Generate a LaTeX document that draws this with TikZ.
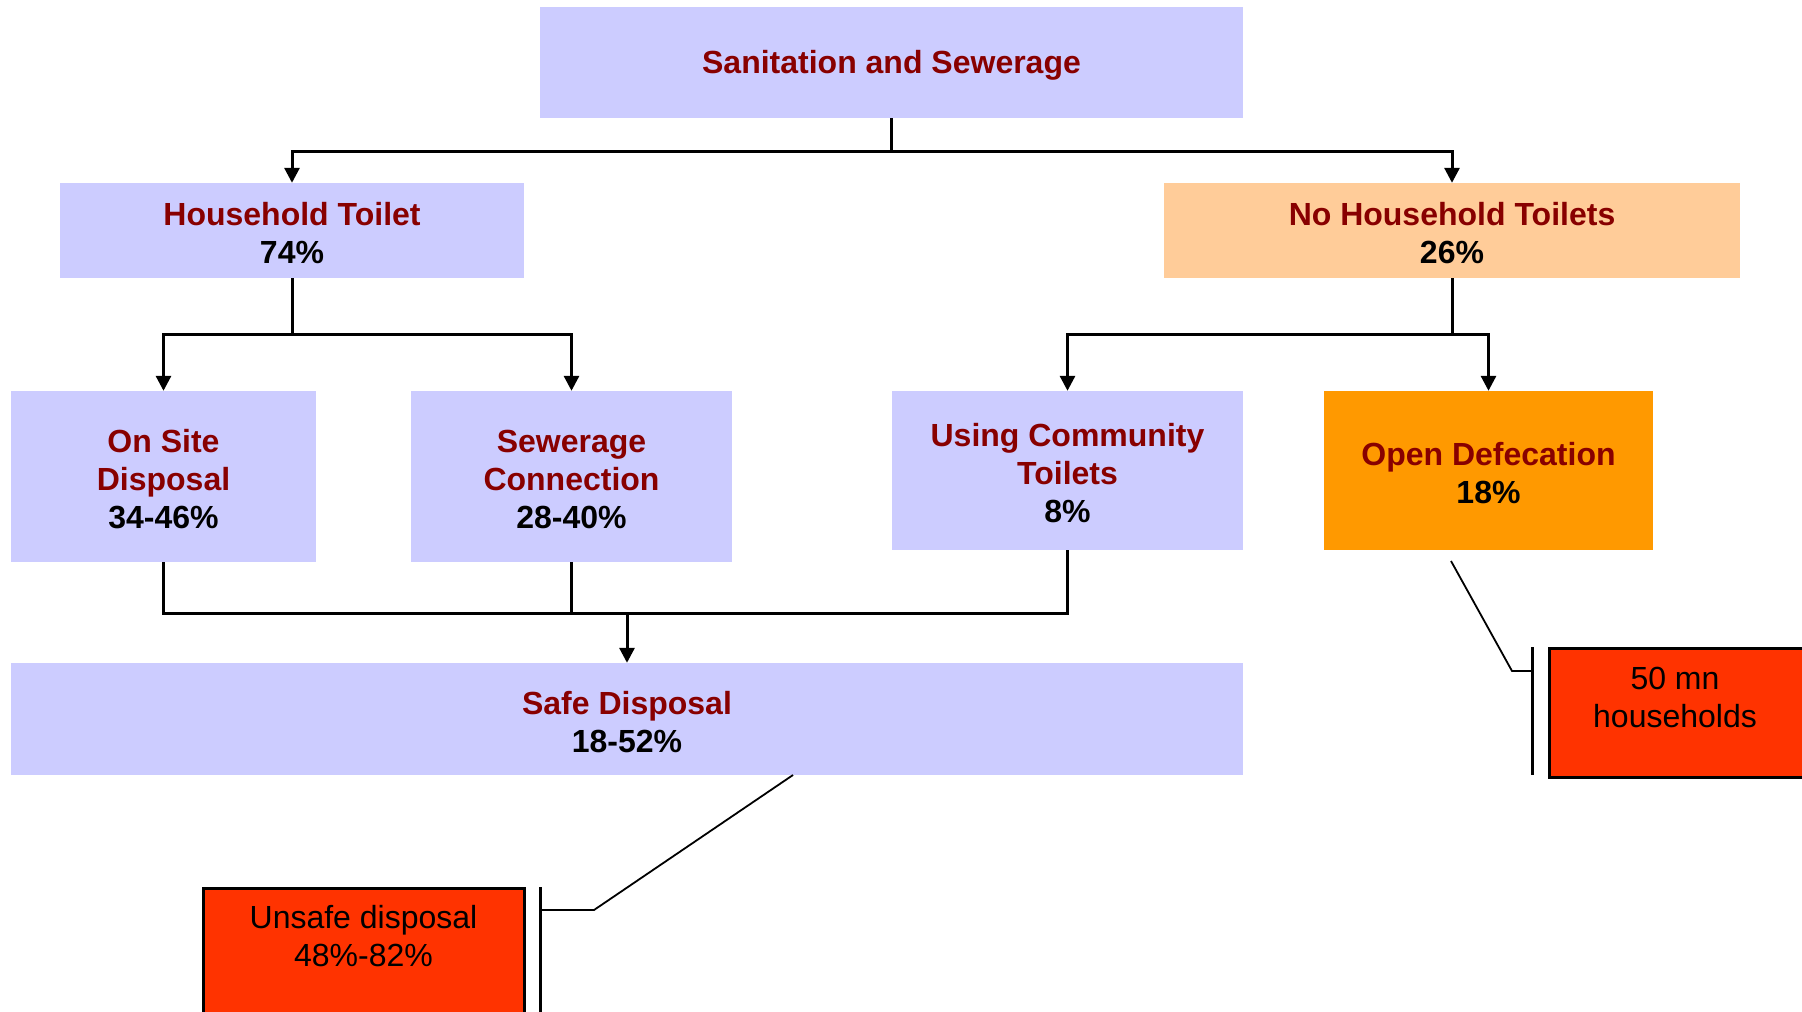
\documentclass[tikz,border=0pt]{standalone}
\usepackage{fontspec}
\setmainfont{Liberation Sans}
\usetikzlibrary{arrows.meta}
\definecolor{lav}{HTML}{CCCCFF}
\definecolor{peach}{HTML}{FFCC99}
\definecolor{orng}{HTML}{FF9900}
\definecolor{redbox}{HTML}{FF3300}
\definecolor{dred}{HTML}{880000}
\newcommand\myst{\rule{0pt}{29pt}}
\tikzset{
  box/.style={rectangle, inner sep=0pt, align=center, font=\fontsize{32}{38}\selectfont\bfseries, text=dred},
  conn/.style={line width=3pt, black},
  arr/.style={conn, -{Triangle[length=15pt,width=15pt]}},
  callout/.style={line width=1.8pt, black},
  bracket/.style={line width=3pt, black},
  redrect/.style={rectangle, fill=redbox, draw=black, line width=3pt, inner sep=0pt},
  redtext/.style={align=center, font=\fontsize{32}{38}\selectfont, text=black}
}
\begin{document}
\begin{tikzpicture}[x=1pt,y=-1pt]
\useasboundingbox (0,0) rectangle (1802,1012);
\fill[white] (0,0) rectangle (1802,1012);

\node[box, fill=lav, minimum width=703pt, minimum height=111pt] (top) at (891.5,62.5) {\myst Sanitation and Sewerage};
\node[box, fill=lav, minimum width=464pt, minimum height=95pt] (ht) at (292,230.5) {\myst Household Toilet\\\textcolor{black}{74\%}};
\node[box, fill=peach, minimum width=576pt, minimum height=95pt] (nht) at (1452,230.5) {\myst No Household Toilets\\\textcolor{black}{26\%}};
\node[box, fill=lav, minimum width=305pt, minimum height=171pt] (osd) at (163.5,476.5) {\myst On Site\\Disposal\\\textcolor{black}{34-46\%}};
\node[box, fill=lav, minimum width=321pt, minimum height=171pt] (sc) at (571.5,476.5) {\myst Sewerage\\Connection\\\textcolor{black}{28-40\%}};
\node[box, fill=lav, minimum width=351pt, minimum height=159pt] (uct) at (1067.5,470.5) {\myst Using Community\\Toilets\\\textcolor{black}{8\%}};
\node[box, fill=orng, minimum width=329pt, minimum height=159pt] (od) at (1488.5,470.5) {\myst Open Defecation\\\textcolor{black}{18\%}};
\node[box, fill=lav, minimum width=1232pt, minimum height=112pt] (sd) at (627,719) {\myst Safe Disposal\\\textcolor{black}{18-52\%}};

% red boxes
\node[redrect, minimum width=321pt, minimum height=160pt, anchor=north] (unsafe) at (363.5,887) {};
\node[redtext] (unsafetxt) at (363.5,936) {Unsafe disposal\\48\%-82\%};
\node[redrect, minimum width=256pt, minimum height=129pt, anchor=north west] (hh) at (1548,647) {};
\node[redtext] (hhtxt) at (1675,697) {50 mn\\households};

% top connectors
\coordinate (j1) at (891.5,151);
\draw[conn] (top.south) -- (j1);
\draw[arr] (j1) -| (ht.north);
\draw[arr] (j1) -| (nht.north);

\coordinate (j2) at (292,334);
\draw[conn] (ht.south) -- (j2);
\draw[arr] (j2) -| (osd.north);
\draw[arr] (j2) -| (sc.north);

\coordinate (j3) at (1452,334);
\draw[conn] (nht.south) -- (j3);
\draw[arr] (j3) -| (uct.north);
\draw[arr] (j3) -| (od.north);

\coordinate (j4) at (627,613);
\draw[conn] (osd.south) |- (j4);
\draw[conn] (sc.south) |- (j4);
\draw[conn] (uct.south) |- (j4);
\draw[arr] (j4) -- (sd.north);

% callouts
\coordinate (c1) at (793,775);
\coordinate (c1b) at (594,910);
\coordinate (c1c) at (540,910);
\coordinate (b1t) at (540,887);
\coordinate (b1b) at (540,1015);
\draw[callout] (c1) -- (c1b) -- (c1c);
\draw[bracket] (b1t) -- (b1b);

\coordinate (c2) at (1451,561);
\coordinate (c2b) at (1512,671);
\coordinate (c2c) at (1532,671);
\coordinate (b2t) at (1532,647);
\coordinate (b2b) at (1532,775);
\draw[callout] (c2) -- (c2b) -- (c2c);
\draw[bracket] (b2t) -- (b2b);
\end{tikzpicture}
\end{document}
